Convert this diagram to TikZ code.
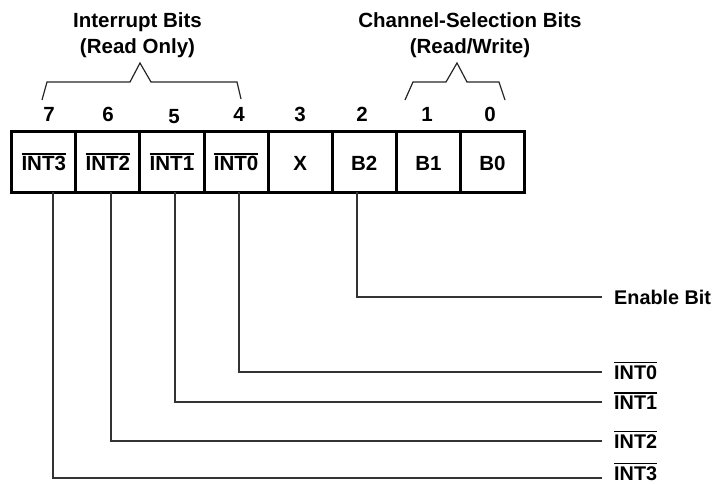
\documentclass[tikz,border=0pt]{standalone}
\usepackage{fontspec}
\setmainfont{Liberation Sans}
\newcommand{\ovb}[1]{\vbox{\hrule height 1.3bp\kern 1.8bp\hbox{#1}}}
\tikzset{
  cell/.style={draw, line width=3bp, minimum width=64.1bp, minimum height=61.3bp,
    inner sep=0pt, outer sep=0pt, text height=18bp, text depth=0pt},
  bitnum/.style={anchor=base, inner sep=0pt},
  ttl/.style={anchor=base, inner sep=0pt},
  wire/.style={line width=1.2bp, draw=black!80},
  bracepath/.style={line width=1.2bp, draw=black!85, line join=miter},
  lab/.style={anchor=west, inner xsep=12bp, inner ysep=0pt, text height=14bp, text depth=0pt,
    font=\fontsize{19.8bp}{24bp}\selectfont\bfseries}
}
\begin{document}
\begin{tikzpicture}[x=1bp, y=-1bp, font=\fontsize{20.5bp}{24bp}\selectfont\bfseries]
\useasboundingbox (0,0) rectangle (717,484);

% titles
\node[ttl] (t1) at (137.5,27.3) {Interrupt Bits};
\node[ttl] (t2) at (137.5,53.3) {(Read Only)};
\node[ttl] (t3) at (470,27.3) {Channel-Selection Bits};
\node[ttl] (t4) at (470,53.3) {(Read/Write)};

% braces
\draw[bracepath] (42,100) -- (47,82) -- (130,82) -- (140,63) -- (151,82) -- (237,82) -- (241,99);
\draw[bracepath] (405,100) -- (413,82) -- (446,82) -- (457,63) -- (467,82) -- (499,82) -- (505,100);

% bit numbers
\node[bitnum] (n7) at (49,122) {7};
\node[bitnum] (n6) at (108,122) {6};
\node[bitnum] (n5) at (174,124) {5};
\node[bitnum] (n4) at (239,122) {4};
\node[bitnum] (n3) at (300,122) {3};
\node[bitnum] (n2) at (362,122) {2};
\node[bitnum] (n1) at (427,122) {1};
\node[bitnum] (n0) at (490,122) {0};

% register cells
\node[cell] (c7) at (43.75,161.7) {\ovb{INT3}};
\node[cell] (c6) at (107.85,161.7) {\ovb{INT2}};
\node[cell] (c5) at (171.95,161.7) {\ovb{INT1}};
\node[cell] (c4) at (236.05,161.7) {\ovb{INT0}};
\node[cell] (c3) at (300.15,161.7) {X};
\node[cell] (c2) at (364.25,161.7) {B2};
\node[cell] (c1) at (428.35,161.7) {B1};
\node[cell] (c0) at (492.45,161.7) {B0};

% output labels
\node[lab] (Len) at (602,297) {Enable Bit};
\node[lab] (L0) at (602,372) {\ovb{INT0}};
\node[lab] (L1) at (602,402) {\ovb{INT1}};
\node[lab] (L2) at (602,441) {\ovb{INT2}};
\node[lab, text height=4bp] (L3) at (602,478) {\ovb{INT3}};

% connectors
\draw[wire] ([xshift=-7.25bp]c2.south) |- (Len.west);
\draw[wire] ([xshift=2.95bp]c4.south) |- (L0.west);
\draw[wire] ([xshift=3.05bp]c5.south) |- (L1.west);
\draw[wire] ([xshift=3.15bp]c6.south) |- (L2.west);
\draw[wire] ([xshift=9.25bp]c7.south) |- (L3.west);
\end{tikzpicture}
\end{document}
